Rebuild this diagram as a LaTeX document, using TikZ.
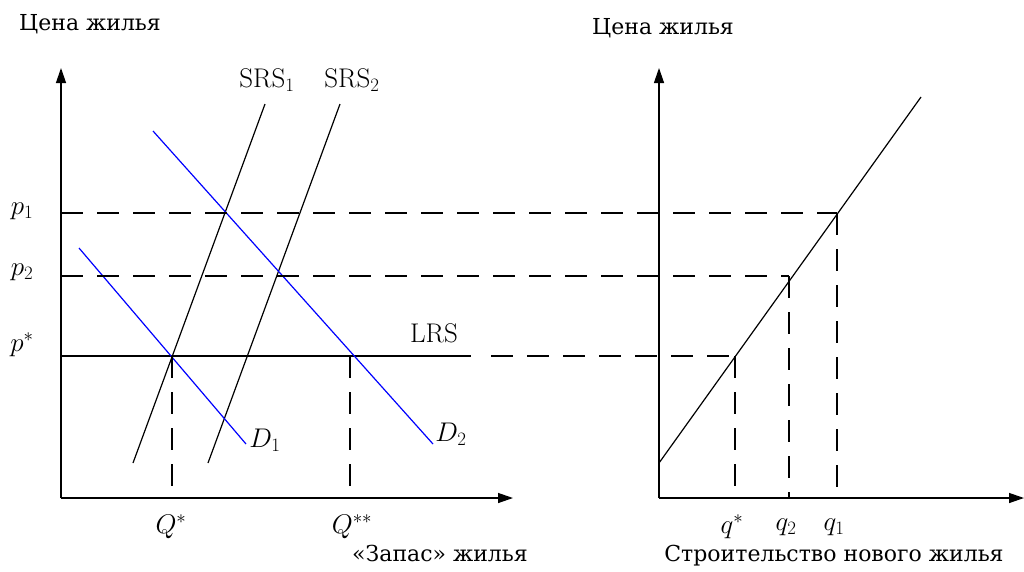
\RequirePackage{fix-cm}
\documentclass[tikz,border=0pt]{standalone}
\usepackage{fontspec}
\newfontfamily\cyrfont{DejaVu Serif}
\usetikzlibrary{arrows.meta,positioning}
\definecolor{demandblue}{HTML}{0000FF}

\begin{document}
\begin{tikzpicture}[x=1pt,y=-1pt,
  axis/.style={-{Triangle[length=15pt,width=10pt]},line width=1.3pt},
  curve/.style={line width=1.2pt},
  demand/.style={curve,draw=demandblue},
  guide/.style={line width=1.2pt,dash pattern=on 22pt off 14pt},
  lbl/.style={inner sep=0pt,font=\fontsize{27}{32}\selectfont},
  axtitle/.style={inner sep=0pt,font=\cyrfont\fontsize{22}{26}\selectfont}
]
\useasboundingbox (0,0) rectangle (1024,571);
% left panel: housing stock
\coordinate (lo) at (61,498);
\draw[axis] (lo) -- (61,68);
\draw[axis] (lo) -- (513,498);
\node[axtitle] (lyt) at (90,24) {Цена жилья};
\node[axtitle] (lxt) at (440,553) {«Запас» жилья};
% price levels
\coordinate (pa) at (61,213);
\coordinate (pb) at (61,276);
\coordinate (ps) at (61,356);
\node[lbl] (p1) at (22,211) {$p_1$};
\node[lbl] (p2) at (22,272) {$p_2$};
\node[lbl] (pst) at (22,345) {$p^*$};
% long-run supply
\coordinate (lrs) at (471,356);
\draw[curve] (ps) -- (lrs);
\node[lbl] (lrst) at (434,333) {LRS};
% short-run supply
\coordinate (sa0) at (133,463);
\coordinate (sa1) at (265,104);
\coordinate (sb0) at (208,463);
\coordinate (sb1) at (340,104);
\draw[curve] (sa0) -- (sa1);
\draw[curve] (sb0) -- (sb1);
\node[lbl] (srs1) at (267,80) {SRS$_1$};
\node[lbl] (srs2) at (352,80) {SRS$_2$};
% demand
\coordinate (da0) at (79,248);
\coordinate (da1) at (246,444);
\coordinate (db0) at (153,131);
\coordinate (db1) at (433,444);
\draw[demand] (da0) -- (da1);
\draw[demand] (db0) -- (db1);
\node[lbl] (d1) at (265,440) {$D_1$};
\node[lbl] (d2) at (451,434) {$D_2$};
% equilibrium stocks
\coordinate (qa) at (172,356);
\coordinate (qb) at (350,356);
\draw[guide] (qa) -- (qa |- lo);
\draw[guide] (qb) -- (qb |- lo);
\node[lbl] (q1t) at (171,527) {$Q^*$};
\node[lbl] (q2t) at (352,527) {$Q^{**}$};

% right panel: new construction
\coordinate (ro) at (659,498);
\draw[axis] (ro) -- (659,68);
\draw[axis] (ro) -- (1024,498);
\node[axtitle] (ryt) at (663,28) {Цена жилья};
\node[axtitle] (rxt) at (834,556) {Строительство нового жилья};
\coordinate (c0) at (659,463);
\coordinate (c1) at (921,97);
\draw[curve] (c0) -- (c1);
% construction levels
\coordinate (ca) at (837,213);
\coordinate (cb) at (789,276);
\coordinate (cs) at (735,356);
\draw[guide] (pa) -- (ca);
\draw[guide] (pb) -- (cb);
\draw[guide] (491,356) -- (cs);
\draw[guide] (ca) -- (ca |- ro);
\draw[guide] (cb) -- (cb |- ro);
\draw[guide] (cs) -- (cs |- ro);
\node[lbl] (qst) at (732,527) {$q^*$};
\node[lbl] (qbt) at (786,527) {$q_2$};
\node[lbl] (qat) at (834,527) {$q_1$};
\end{tikzpicture}
\end{document}
